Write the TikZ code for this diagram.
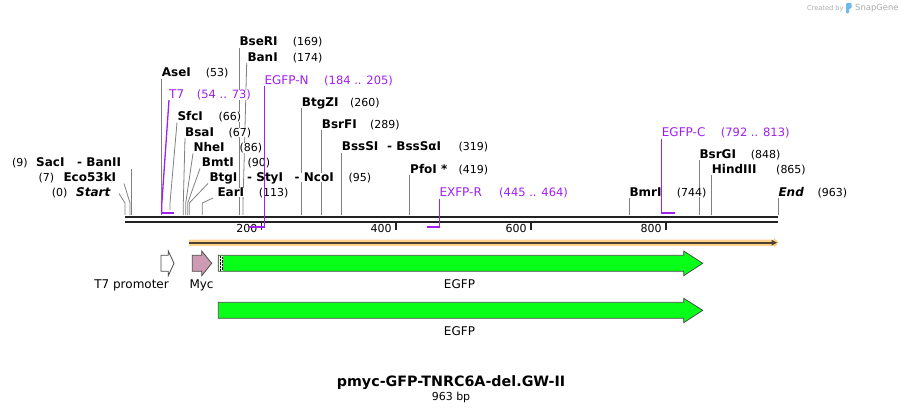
\documentclass[tikz,border=0pt]{standalone}
\usepackage{fontspec}
\setmainfont{DejaVu Sans}
\definecolor{primerc}{RGB}{160,32,240}
\definecolor{leadergray}{RGB}{128,128,128}
\definecolor{backc}{RGB}{34,34,34}
\definecolor{egfpgreen}{RGB}{8,255,24}
\definecolor{mycpink}{RGB}{205,155,180}
\definecolor{orangeband}{RGB}{253,210,140}
\definecolor{orangeline}{RGB}{80,64,48}
\definecolor{snapgray}{RGB}{170,170,170}
\definecolor{snapblue}{RGB}{110,185,235}
\tikzset{
  enz/.style={font=\fontsize{12}{14}\selectfont\bfseries, anchor=base west, inner sep=0pt, fill=white},
  num/.style={font=\fontsize{11}{13}\selectfont, anchor=base west, inner sep=0pt, fill=white},
  primer/.style={font=\fontsize{12}{14}\selectfont, text=primerc, anchor=base west, inner sep=0pt, fill=white},
  primernum/.style={font=\fontsize{11.5}{13}\selectfont, text=primerc, anchor=base west, inner sep=0pt, fill=white},
  featlabel/.style={font=\fontsize{12}{14}\selectfont, inner sep=0pt},
  leader/.style={draw=leadergray, line width=0.8pt},
  primerline/.style={draw=primerc, line width=1.3pt},
  primerbar/.style={draw=primerc, line width=2.2pt},
  backbone/.style={draw=backc, line width=2.2pt},
  tickmark/.style={draw=backc, line width=1.8pt},
  feat/.style={draw=black!70, line width=0.8pt, line join=miter}
}
\begin{document}
\begin{tikzpicture}[x=1pt,y=-1pt]
\useasboundingbox (0,0) rectangle (904,413);
% Watermark
\node[anchor=base west, inner sep=0pt, text=snapgray, font=\fontsize{6.6}{7}\selectfont] (created) at (807,10) {Created by};
\fill[snapblue, rounded corners=1pt] (846,3) -- (851.5,3) -- (851.5,8.5) -- (849,8.5) -- (849,13.3) -- (846,13.3) -- cycle;
\node[anchor=base west, inner sep=0pt, text=snapgray, font=\fontsize{8.4}{9}\selectfont] (snapgene) at (855,10.5) {SnapGene};
% Backbone
\coordinate (seqstart) at (125,217);
\coordinate (seqend) at (778,217);
\draw[backbone] (seqstart) -- (seqend);
\draw[backbone] ([yshift=-4.7pt]seqstart) -- ([yshift=-4.7pt]seqend);
% Ruler ticks
\draw[tickmark] (261.5,223.3) -- (261.5,229.5);
\draw[tickmark] (395.7,223.3) -- (395.7,229.5);
\draw[tickmark] (530.7,223.3) -- (530.7,229.5);
\draw[tickmark] (665.7,223.3) -- (665.7,229.5);
\node[num, anchor=base east] (tick200) at (257.5,232.7) {200};
\node[num, anchor=base east] (tick400) at (391.7,232.7) {400};
\node[num, anchor=base east] (tick600) at (526.7,232.7) {600};
\node[num, anchor=base east] (tick800) at (661.7,232.7) {800};
% Leaders of the cut sites
\draw[leader] (125,215) -- (125,203) -- (119,193.5);
\draw[leader] (130,215) -- (130,203) -- (124,183.5);
\draw[leader] (131.7,215) -- (131.7,169);
\draw[leader] (161.7,215) -- (161.7,78.5);
\draw[leader] (170,210) -- (170,203) -- (177,122.5);
\draw[leader] (183.3,215) -- (183.3,203) -- (185,138);
\draw[leader] (185.7,215) -- (185.7,203) -- (193,153.5);
\draw[leader] (187.7,215) -- (187.7,203) -- (200,168.5);
\draw[leader] (189.3,215) -- (189.3,203) -- (208,183.5);
\draw[leader] (202.3,215) -- (202.3,203) -- (213,198);
\draw[leader] (239.3,215) -- (239.3,47.5);
\draw[leader] (243,215) -- (243,203) -- (246.7,63);
\draw[leader] (301.5,215) -- (301.5,108);
\draw[leader] (321.5,215) -- (321.5,130.3);
\draw[leader] (341.5,215) -- (341.5,152.7);
\draw[leader] (409.7,215) -- (409.7,175.3);
\draw[leader] (629.3,215) -- (629.3,198);
\draw[leader] (699.3,215) -- (699.3,160.3);
\draw[leader] (711.7,215) -- (711.7,175.3);
\draw[leader] (778.3,215) -- (778.3,198);
% Cut site labels, left group
\node[num] (startnum) at (51.7,196.7) {(0)};
\node[enz, font=\fontsize{12}{14}\selectfont\bfseries\itshape] (start) at (76,196.7) {Start};
\node[num] (eco53knum) at (38.3,181.7) {(7)};
\node[enz] (eco53ki) at (63.3,181.7) {Eco53kI};
\node[num] (sacinum) at (12,166.7) {(9)};
\node[enz] (saci) at (36,166.7) {SacI};
\node[enz] (banii) at (77,166.7) {- BanII};
\node[enz] (asei) at (161.7,76.7) {AseI};
\node[num] (aseinum) at (205.7,76.7) {(53)};
\node[enz] (sfci) at (177.3,120.7) {SfcI};
\node[num] (sfcinum) at (218.3,120.7) {(66)};
\node[enz] (bsai) at (185,136) {BsaI};
\node[num] (bsainum) at (228.3,136) {(67)};
\node[enz] (nhei) at (193.3,151.7) {NheI};
\node[num] (nheinum) at (239.3,151.7) {(86)};
\node[enz] (bmti) at (201.7,166.7) {BmtI};
\node[num] (bmtinum) at (247.3,166.7) {(90)};
\node[enz] (btgi) at (209.3,181.7) {BtgI};
\node[enz] (styi) at (247,181.7) {- StyI};
\node[enz] (ncoi) at (294.5,181.7) {- NcoI};
\node[num] (btginum) at (348.3,181.7) {(95)};
\node[enz] (eari) at (217.3,196.7) {EarI};
\node[num] (earinum) at (258.7,196.7) {(113)};
\node[enz] (bseri) at (239.3,45.7) {BseRI};
\node[num] (bserinum) at (292.7,45.7) {(169)};
\node[enz] (bani) at (247.3,61) {BanI};
\node[num] (baninum) at (292.7,61) {(174)};
% Cut site labels, middle group
\node[enz] (btgzi) at (301.7,106) {BtgZI};
\node[num] (btgzinum) at (350,106) {(260)};
\node[enz] (bsrfi) at (321.7,128.3) {BsrFI};
\node[num] (bsrfinum) at (370,128.3) {(289)};
\node[enz] (bsssi) at (341.7,150.7) {BssSI};
\node[enz] (bsssai) at (387,150.7) {- BssSαI};
\node[num] (bsssinum) at (458.3,150.7) {(319)};
\node[enz] (pfoi) at (410,173.3) {PfoI *};
\node[num] (pfoinum) at (458.3,173.3) {(419)};
% Cut site labels, right group
\node[enz] (bmri) at (629.3,196) {BmrI};
\node[num] (bmrinum) at (676.7,196) {(744)};
\node[enz] (bsrgi) at (699.3,158.3) {BsrGI};
\node[num] (bsrginum) at (750.7,158.3) {(848)};
\node[enz] (hindiii) at (711.7,173.3) {HindIII};
\node[num] (hindiiinum) at (776,173.3) {(865)};
\node[enz, font=\fontsize{12}{14}\selectfont\bfseries\itshape] (endsite) at (778.3,196) {End};
\node[num] (endnum) at (817.3,196) {(963)};
% Primers
\draw[primerline] (169,100) -- (161.7,205) -- (161.7,212.7);
\draw[primerbar] (160.8,212.7) -- (174.3,212.7);
\node[primer] (t7) at (169,98.3) {T7};
\node[primernum] (t7num) at (196.7,98.3) {(54 .. 73)};
\draw[primerline] (264.3,86) -- (264.3,226.7);
\draw[primerbar] (249,226.7) -- (265,226.7);
\node[primer] (egfpn) at (264.3,84) {EGFP-N};
\node[primernum] (egfpnnum) at (324,84) {(184 .. 205)};
\draw[primerline] (439.3,198.5) -- (439.3,226.7);
\draw[primerbar] (426.5,226.7) -- (440,226.7);
\node[primer] (exfpr) at (439.3,196.7) {EXFP-R};
\node[primernum] (exfprnum) at (499,196.7) {(445 .. 464)};
\draw[primerline] (661.7,138.5) -- (661.7,212.7);
\draw[primerbar] (661,212.7) -- (675,212.7);
\node[primer] (egfpc) at (661.7,136.7) {EGFP-C};
\node[primernum] (egfpcnum) at (720.7,136.7) {(792 .. 813)};
% Orange feature band
\fill[orangeband] (189,239.5) -- (774,239.5) -- (774,237.8) -- (778.7,242.7) -- (774,247.6) -- (774,245.9) -- (189,245.9) -- cycle;
\draw[orangeline, line width=2pt] (189,242.7) -- (772,242.7);
\fill[orangeline] (771.5,239.8) -- (777,242.7) -- (771.5,245.6) -- cycle;
% Features
\draw[feat, fill=white] (161,255.3) -- (168.3,255.3) -- (168.3,251) -- (174,263.3) -- (168.3,275.7) -- (168.3,271.3) -- (161,271.3) -- cycle;
\node[featlabel, anchor=base east] (t7prom) at (169,288.3) {T7 promoter};
\draw[feat, fill=mycpink] (192.3,255.3) -- (201.7,255.3) -- (201.7,251) -- (211.7,263.3) -- (201.7,275.7) -- (201.7,271.3) -- (192.3,271.3) -- cycle;
\node[featlabel, anchor=base west] (myc) at (189.3,288.3) {Myc};
\draw[feat, fill=egfpgreen] (218.3,255.3) -- (683.7,255.3) -- (683.7,251) -- (702.7,263.3) -- (683.7,275.7) -- (683.7,271.3) -- (218.3,271.3) -- cycle;
\fill[white] (219,256) rectangle (223,270.6);
\draw[black, line width=0.6pt, dash pattern=on 0.7pt off 0.7pt] (219.8,256) -- (219.8,270.6);
\draw[black, line width=0.6pt, dash pattern=on 0.7pt off 0.7pt] (222.2,256.7) -- (222.2,270.6);
\node[featlabel, anchor=base] (egfpa) at (459.5,288.3) {EGFP};
\draw[feat, fill=egfpgreen] (218.3,302.3) -- (683.7,302.3) -- (683.7,298.3) -- (702.7,310.3) -- (683.7,322.7) -- (683.7,318.3) -- (218.3,318.3) -- cycle;
\node[featlabel, anchor=base] (egfpb) at (459.5,335.3) {EGFP};
% Title
\node[anchor=base, inner sep=0pt, font=\fontsize{14.3}{16}\selectfont\bfseries] (title) at (451,386.7) {pmyc-GFP-TNRC6A-del.GW-II};
\node[anchor=base, inner sep=0pt, font=\fontsize{11}{13}\selectfont] (length) at (451,400) {963 bp};
\end{tikzpicture}
\end{document}
